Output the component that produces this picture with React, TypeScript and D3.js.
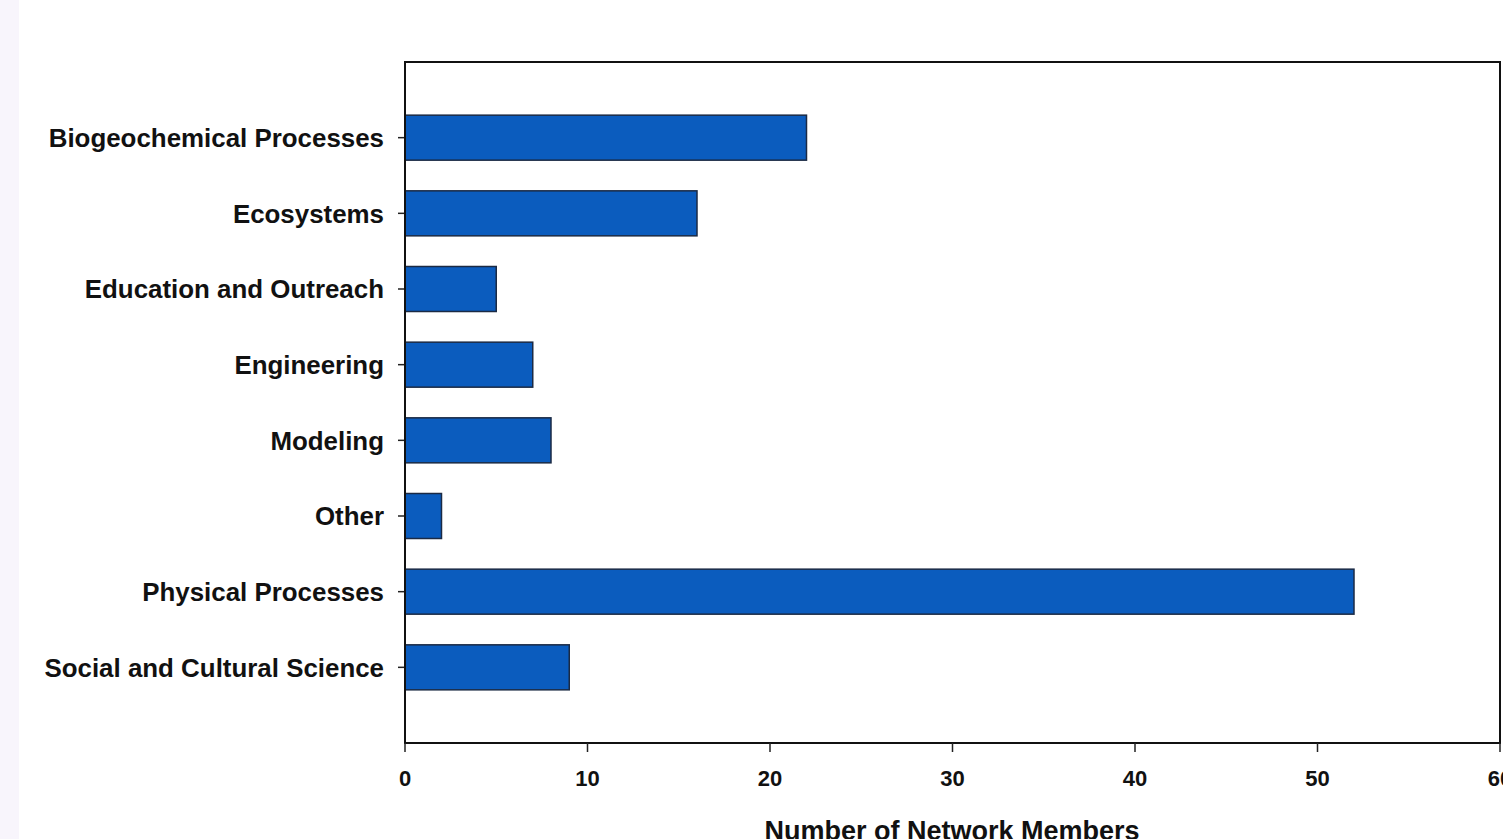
import React from "react";
import * as d3 from "d3";

const categories = [
  "Biogeochemical Processes",
  "Ecosystems",
  "Education and Outreach",
  "Engineering",
  "Modeling",
  "Other",
  "Physical Processes",
  "Social and Cultural Science",
];
const values = [22, 16, 5, 7, 8, 2, 52, 9];
const xTicks = [0, 10, 20, 30, 40, 50, 60];
const xTitle = "Number of Network Members";

const W = 1503;
const H = 839;
const left = 405;
const right = 1500;
const top = 62;
const bottom = 743;
const FONT = "'Liberation Sans', Arial, sans-serif";

export default function App() {
  const x = d3.scaleLinear().domain([0, 60]).range([left, right]);
  const y = d3.scaleLinear().domain([0, categories.length + 1]).range([top, bottom]);
  const barH = 45;
  return (
    <svg
      width={W}
      height={H}
      style={{ position: "absolute", top: 0, left: 0, background: "#ffffff" }}
      fontFamily={FONT}
    >
      <rect x={0} y={0} width={19} height={H} fill="#f8f5fc" />
      {categories.map((c, i) => {
        const cy = y(i + 1);
        return (
          <g key={c}>
            <rect
              x={x(0)}
              y={cy - barH / 2}
              width={x(values[i]) - x(0)}
              height={barH}
              fill="#0b5cbe"
              stroke="#1b2a44"
              strokeWidth={1.5}
            />
            <line x1={left - 7} x2={left} y1={cy} y2={cy} stroke="#222" strokeWidth={1.5} />
            <text
              x={384}
              y={cy}
              dy="0.36em"
              textAnchor="end"
              fontWeight="bold"
              fontSize={25.9}
              fill="#111"
            >
              {c}
            </text>
          </g>
        );
      })}
      <rect
        x={left}
        y={top}
        width={right - left}
        height={bottom - top}
        fill="none"
        stroke="#111"
        strokeWidth={2}
      />
      {xTicks.map((t) => (
        <g key={t}>
          <line x1={x(t)} x2={x(t)} y1={bottom} y2={bottom + 9} stroke="#222" strokeWidth={1.5} />
          <text
            x={x(t)}
            y={778}
            dy="0.36em"
            textAnchor="middle"
            fontWeight="bold"
            fontSize={22}
            fill="#111"
          >
            {t}
          </text>
        </g>
      ))}
      <text
        x={952}
        y={830}
        dy="0.36em"
        textAnchor="middle"
        fontWeight="bold"
        fontSize={27}
        fill="#111"
      >
        {xTitle}
      </text>
    </svg>
  );
}
